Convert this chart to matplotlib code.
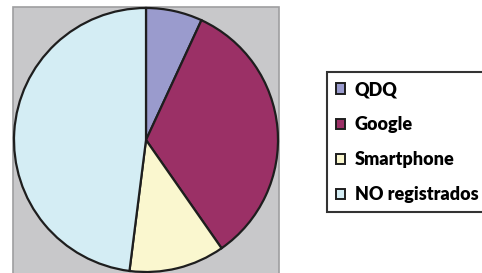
import matplotlib
matplotlib.use("Agg")
import matplotlib.pyplot as plt
from matplotlib.patches import Rectangle

labels = ["QDQ", "Google", "Smartphone", "NO registrados"]
values = [6.9, 33.4, 11.7, 48.0]
colors = ["#9A9BCD", "#9B3066", "#FAF7CF", "#D4EDF4"]

W, H = 482, 273
fig = plt.figure(figsize=(W / 100, H / 100), dpi=100)
ax = fig.add_axes([0, 0, 1, 1])
ax.set_xlim(0, W)
ax.set_ylim(0, H)
ax.set_aspect("equal")
ax.axis("off")

# gray plot area
ax.add_patch(Rectangle((13, -10), 266, 276, facecolor="#C8C8CA",
                       edgecolor="#9E9EA0", linewidth=1.2, zorder=0))

wedges, _ = ax.pie(values, colors=colors, startangle=90, counterclock=False,
                   center=(146, 133), radius=132, frame=True,
                   wedgeprops=dict(edgecolor="#1E1E1E", linewidth=1.6))
ax.set_xlim(0, W)
ax.set_ylim(0, H)
ax.axis("off")

leg = ax.legend(wedges, labels, loc="upper left",
                bbox_to_anchor=(327 / W, (H - 72) / H),
                bbox_transform=fig.transFigure,
                frameon=True, fancybox=False, edgecolor="black",
                prop=dict(family="Lato", weight="heavy", size=13),
                handlelength=0.5, handleheight=0.5, handletextpad=0.55,
                labelspacing=1.0, borderpad=0.5, borderaxespad=0)
leg.get_frame().set_linewidth(1.5)
for h in leg.legend_handles:
    h.set_linewidth(1.4)

fig.savefig("out.png", dpi=100)
